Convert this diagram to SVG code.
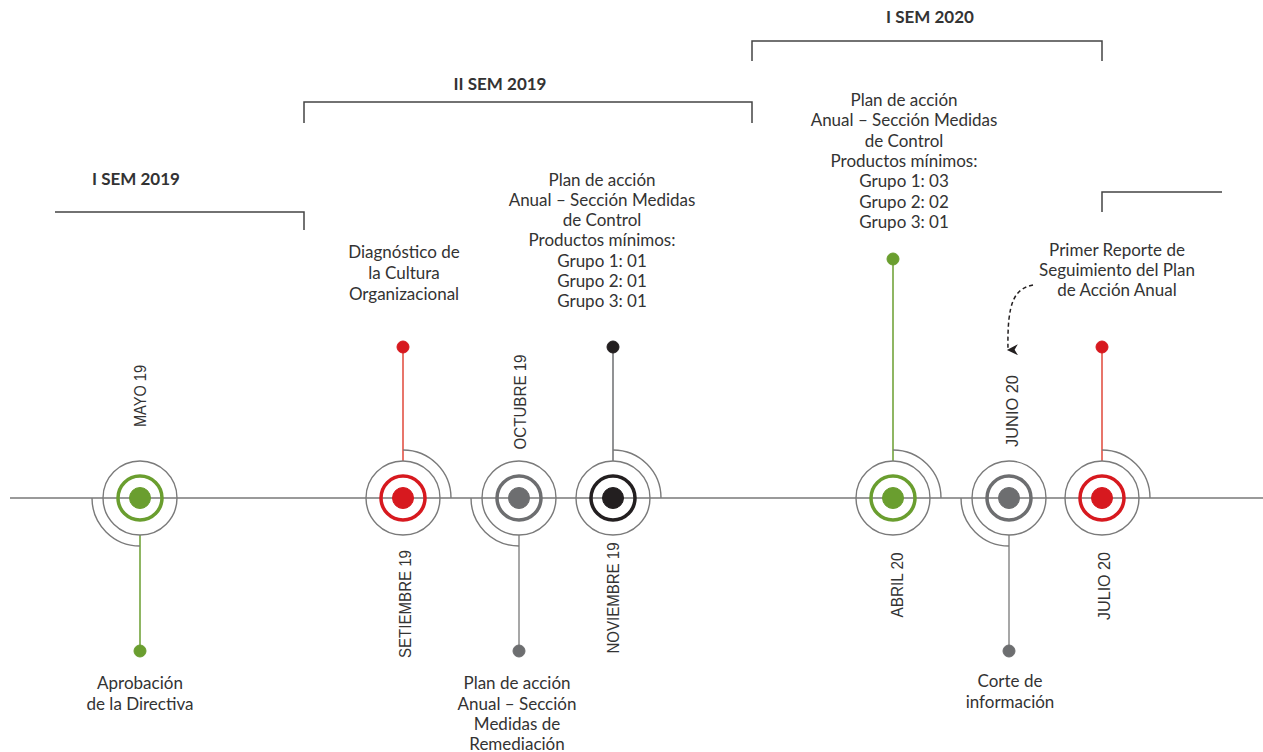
<svg xmlns="http://www.w3.org/2000/svg" width="1263" height="752" viewBox="0 0 1263 752">
<defs>
<style>
.t{font-family:Lato,"Open Sans","Liberation Sans",sans-serif;font-size:17px;fill:#333;text-anchor:middle}
.b{font-family:Lato,"Open Sans","Liberation Sans",sans-serif;font-size:17px;font-weight:bold;fill:#333;text-anchor:middle}
.m{font-family:"Liberation Sans",Arial,sans-serif;font-size:17px;fill:#333;text-anchor:middle;dominant-baseline:central}
.br{fill:none;stroke:#444;stroke-width:1.5}
.outer{fill:none;stroke:#7a7a7a;stroke-width:1.4}
.arc{fill:none;stroke:#7a7a7a;stroke-width:1.4}
.g{fill:#6a9e2f;stroke:#6a9e2f}
.r{fill:#d7191f;stroke:#d7191f}
.gy{fill:#6d6e70;stroke:#6d6e70}
.k{fill:#231f20;stroke:#231f20}
.ring{fill:none;stroke-width:3.5}
</style>
<marker id="ah" viewBox="0 0 10 10" refX="5" refY="9" markerWidth="11" markerHeight="12" orient="auto" markerUnits="userSpaceOnUse">
<path d="M0,0 L5,10 L10,0 L5,3 Z" fill="#231f20"/>
</marker>
</defs>
<rect width="1263" height="752" fill="#ffffff"/>

<g id="brackets">
<path class="br" d="M55,212 H304 V230"/>
<path class="br" d="M304,123 V102 H752 V123"/>
<path class="br" d="M752,61 V41 H1102 V61"/>
<path class="br" d="M1102,212 V192 H1222"/>
<text class="b" x="136" y="185">I SEM 2019</text>
<text class="b" x="500" y="90">II SEM 2019</text>
<text class="b" x="930" y="23">I SEM 2020</text>
</g>

<g id="connectors">
<line x1="10" y1="498" x2="1263" y2="498" stroke="#9a9a9a" stroke-width="2"/>
<line x1="140" y1="535" x2="140" y2="651" stroke="#6a9e2f" stroke-width="1.5"/>
<line x1="403" y1="461" x2="403" y2="347" stroke="#e0473a" stroke-width="1.5"/>
<line x1="519" y1="535" x2="519" y2="651" stroke="#8a8a8a" stroke-width="1.5"/>
<line x1="613" y1="461" x2="613" y2="347" stroke="#6d6e70" stroke-width="1.5"/>
<line x1="893" y1="461" x2="893" y2="259" stroke="#6a9e2f" stroke-width="1.5"/>
<line x1="1009" y1="535" x2="1009" y2="651" stroke="#8a8a8a" stroke-width="1.5"/>
<line x1="1102" y1="461" x2="1102" y2="347" stroke="#e0473a" stroke-width="1.5"/>
<path d="M1033,285 C1015,289 1007,300 1008,350" fill="none" stroke="#231f20" stroke-width="1.5" stroke-dasharray="4,3" marker-end="url(#ah)"/>
</g>

<g id="n-mayo19">
<path class="arc" d="M92,498 A48,48 0 0 0 140,546"/>
<circle class="outer" cx="140" cy="498" r="37"/>
<circle class="ring g" cx="140" cy="498" r="22" style="fill:none"/>
<circle class="g" cx="140" cy="498" r="10.5"/>
<circle class="g" cx="140" cy="651" r="6"/>
<text class="m" transform="translate(140,396) rotate(-90)" textLength="62" lengthAdjust="spacingAndGlyphs">MAYO 19</text>
<text class="t" x="140" y="689">Aprobación</text>
<text class="t" x="140" y="710">de la Directiva</text>
</g>

<g id="n-setiembre19">
<path class="arc" d="M403,450 A48,48 0 0 1 451,498"/>
<circle class="outer" cx="403" cy="498" r="37"/>
<circle class="ring r" cx="403" cy="498" r="22" style="fill:none"/>
<circle class="r" cx="403" cy="498" r="10.5"/>
<circle class="r" cx="403" cy="347" r="6"/>
<text class="m" transform="translate(405,604) rotate(-90)" textLength="108" lengthAdjust="spacingAndGlyphs">SETIEMBRE 19</text>
<text class="t" x="404" y="258">Diagnóstico de</text>
<text class="t" x="404" y="279">la Cultura</text>
<text class="t" x="404" y="300">Organizacional</text>
</g>

<g id="n-octubre19">
<path class="arc" d="M471,498 A48,48 0 0 0 519,546"/>
<circle class="outer" cx="519" cy="498" r="37"/>
<circle class="ring gy" cx="519" cy="498" r="22" style="fill:none"/>
<circle class="gy" cx="519" cy="498" r="10.5"/>
<circle class="gy" cx="519" cy="651" r="6"/>
<text class="m" transform="translate(520,402) rotate(-90)" textLength="95" lengthAdjust="spacingAndGlyphs">OCTUBRE 19</text>
<text class="t" x="517" y="689">Plan de acción</text>
<text class="t" x="517" y="710">Anual – Sección</text>
<text class="t" x="517" y="730">Medidas de</text>
<text class="t" x="517" y="750">Remediación</text>
</g>

<g id="n-noviembre19">
<path class="arc" d="M613,450 A48,48 0 0 1 661,498"/>
<circle class="outer" cx="613" cy="498" r="37"/>
<circle class="ring k" cx="613" cy="498" r="22" style="fill:none"/>
<circle class="k" cx="613" cy="498" r="10.5"/>
<circle class="k" cx="613" cy="347" r="6"/>
<text class="m" transform="translate(613,598) rotate(-90)" textLength="111" lengthAdjust="spacingAndGlyphs">NOVIEMBRE 19</text>
<text class="t" x="602" y="186">Plan de acción</text>
<text class="t" x="602" y="206">Anual – Sección Medidas</text>
<text class="t" x="602" y="226">de Control</text>
<text class="t" x="602" y="246">Productos mínimos:</text>
<text class="t" x="602" y="267">Grupo 1: 01</text>
<text class="t" x="602" y="287">Grupo 2: 01</text>
<text class="t" x="602" y="307">Grupo 3: 01</text>
</g>

<g id="n-abril20">
<path class="arc" d="M893,450 A48,48 0 0 1 941,498"/>
<circle class="outer" cx="893" cy="498" r="37"/>
<circle class="ring g" cx="893" cy="498" r="22" style="fill:none"/>
<circle class="g" cx="893" cy="498" r="10.5"/>
<circle class="g" cx="893" cy="259" r="6"/>
<text class="m" transform="translate(897,585) rotate(-90)" textLength="65" lengthAdjust="spacingAndGlyphs">ABRIL 20</text>
<text class="t" x="904" y="106">Plan de acción</text>
<text class="t" x="904" y="126">Anual – Sección Medidas</text>
<text class="t" x="904" y="147">de Control</text>
<text class="t" x="904" y="167">Productos mínimos:</text>
<text class="t" x="904" y="187">Grupo 1: 03</text>
<text class="t" x="904" y="208">Grupo 2: 02</text>
<text class="t" x="904" y="228">Grupo 3: 01</text>
</g>

<g id="n-junio20">
<path class="arc" d="M961,498 A48,48 0 0 0 1009,546"/>
<circle class="outer" cx="1009" cy="498" r="37"/>
<circle class="ring gy" cx="1009" cy="498" r="22" style="fill:none"/>
<circle class="gy" cx="1009" cy="498" r="10.5"/>
<circle class="gy" cx="1009" cy="651" r="6"/>
<text class="m" transform="translate(1012,411) rotate(-90)" textLength="72" lengthAdjust="spacingAndGlyphs">JUNIO 20</text>
<text class="t" x="1010" y="687">Corte de</text>
<text class="t" x="1010" y="708">información</text>
</g>

<g id="n-julio20">
<path class="arc" d="M1102,450 A48,48 0 0 1 1150,498"/>
<circle class="outer" cx="1102" cy="498" r="37"/>
<circle class="ring r" cx="1102" cy="498" r="22" style="fill:none"/>
<circle class="r" cx="1102" cy="498" r="10.5"/>
<circle class="r" cx="1102" cy="347" r="6"/>
<text class="m" transform="translate(1104,586) rotate(-90)" textLength="68" lengthAdjust="spacingAndGlyphs">JULIO 20</text>
<text class="t" x="1117" y="256">Primer Reporte de</text>
<text class="t" x="1117" y="276">Seguimiento del Plan</text>
<text class="t" x="1117" y="296">de Acción Anual</text>
</g>
</svg>
